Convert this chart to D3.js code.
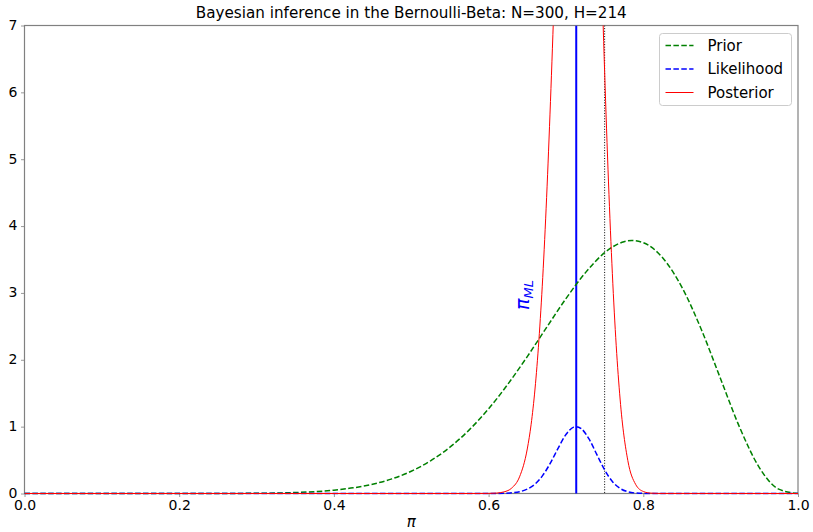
<!DOCTYPE html>
<html>
<head>
<meta charset="utf-8">
<script src="https://cdn.jsdelivr.net/npm/d3@7"></script>
<style>
  html, body { margin: 0; padding: 0; background: #fff; }
  svg { display: block; font-family: "DejaVu Sans", sans-serif; }
</style>
</head>
<body>
<svg id="chart" width="813" height="532"></svg>
<script>
// ---- data ----
const title = "Bayesian inference in the Bernoulli-Beta: N=300, H=214";
const xTicks = [0.0, 0.2, 0.4, 0.6, 0.8, 1.0];
const yTicks = [0, 1, 2, 3, 4, 5, 6, 7];

const priorX = [0.0, 0.15, 0.2, 0.25, 0.3, 0.325, 0.35, 0.375, 0.4, 0.425, 0.45, 0.475, 0.5, 0.525, 0.55, 0.575, 0.6, 0.625, 0.65, 0.675, 0.7, 0.725, 0.75, 0.775, 0.785, 0.8, 0.825, 0.85, 0.875, 0.9, 0.925, 0.95, 0.975, 1.0];
const priorY = [0.0, 0.0, 0.0001, 0.0006, 0.0033, 0.0072, 0.0145, 0.0275, 0.0495, 0.0848, 0.139, 0.219, 0.333, 0.489, 0.693, 0.952, 1.267, 1.637, 2.048, 2.484, 2.915, 3.300, 3.602, 3.766, 3.784, 3.752, 3.525, 3.083, 2.454, 1.713, 0.977, 0.388, 0.065, 0.0];

const likeX = [0.0, 0.58, 0.6, 0.62, 0.63, 0.64, 0.65, 0.66, 0.67, 0.68, 0.69, 0.7, 0.71, 0.7133, 0.72, 0.73, 0.74, 0.75, 0.76, 0.77, 0.78, 0.79, 0.8, 0.82, 1.0];
const likeY = [0.0, 0.0, 0.0002, 0.0031, 0.0097, 0.0266, 0.0652, 0.141, 0.271, 0.458, 0.680, 0.882, 0.993, 1.0, 0.968, 0.812, 0.581, 0.353, 0.179, 0.0756, 0.0262, 0.0073, 0.0016, 0.0, 0.0];

const postX = [0.0, 0.58, 0.6, 0.61, 0.62, 0.63, 0.64, 0.65, 0.655, 0.66, 0.665, 0.67, 0.675, 0.68, 0.685, 0.69, 0.7, 0.71, 0.7166, 0.72, 0.73, 0.74, 0.745, 0.75, 0.755, 0.76, 0.765, 0.77, 0.78, 0.79, 0.8, 0.81, 0.82, 1.0];
const postY = [0.0, 0.0001, 0.0015, 0.0063, 0.0242, 0.0825, 0.249, 0.666, 1.036, 1.563, 2.29, 3.232, 4.43, 5.865, 7.50, 9.29, 12.78, 15.20, 15.69, 15.57, 13.63, 10.12, 8.18, 6.31, 4.66, 3.288, 2.21, 1.413, 0.492, 0.138, 0.030, 0.005, 0.0007, 0.0];

const piML = 0.7133;      // maximum-likelihood estimate (blue vertical line)
const priorMean = 0.75;   // black dotted vertical line

const legendLabels = ["Prior", "Likelihood", "Posterior"];

// ---- layout ----
const svg = d3.select("#chart");
const L = 24.5, R = 798, T = 25.5, B = 493.5;
const x = d3.scaleLinear().domain([0, 1]).range([L, R]);
const y = d3.scaleLinear().domain([0, 7]).range([B, T]);

svg.append("defs").append("clipPath").attr("id", "plotclip")
  .append("rect").attr("x", L).attr("y", T).attr("width", R - L).attr("height", B - T + 1.2);

const line = d3.line().x(d => x(d[0])).y(d => y(d[1])).curve(d3.curveMonotoneX);

// axes
const axisColor = "#808080";
const xAxis = svg.append("g").attr("transform", `translate(0,${B})`)
  .call(d3.axisBottom(x).tickValues(xTicks).tickFormat(d3.format(".1f")).tickSizeOuter(0).tickSizeInner(3.5).tickPadding(3.5));
const yAxis = svg.append("g").attr("transform", `translate(${L},0)`)
  .call(d3.axisLeft(y).tickValues(yTicks).tickFormat(d3.format("d")).tickSizeOuter(0).tickSizeInner(3.5).tickPadding(3.5));
[xAxis, yAxis].forEach(a => {
  a.select(".domain").remove();
  a.selectAll(".tick line").attr("stroke", axisColor).attr("stroke-width", 0.8);
  a.selectAll(".tick text").attr("fill", "#000").style("font-size", "14px").style("font-family", "DejaVu Sans");
});
yAxis.selectAll(".tick text").attr("dy", "0.28em");

// spines
svg.append("rect").attr("x", L).attr("y", T).attr("width", R - L).attr("height", B - T)
  .attr("fill", "none").attr("stroke", axisColor).attr("stroke-width", 1.2);

const plot = svg.append("g").attr("clip-path", "url(#plotclip)");

// vertical lines
plot.append("line").attr("x1", x(piML)).attr("x2", x(piML)).attr("y1", T).attr("y2", B)
  .attr("stroke", "#0000ff").attr("stroke-width", 2);
plot.append("line").attr("x1", x(priorMean)).attr("x2", x(priorMean)).attr("y1", T).attr("y2", B)
  .attr("stroke", "#000").attr("stroke-width", 1).attr("stroke-dasharray", "1,1.65");

// curves
plot.append("path").datum(priorX.map((v, i) => [v, priorY[i]])).attr("d", line)
  .attr("fill", "none").attr("stroke", "#008000").attr("stroke-width", 1.5).attr("stroke-dasharray", "5.5,2.4");
plot.append("path").datum(likeX.map((v, i) => [v, likeY[i]])).attr("d", line)
  .attr("fill", "none").attr("stroke", "#0000ff").attr("stroke-width", 1.5).attr("stroke-dasharray", "5.5,2.4");
plot.append("path").datum(postX.map((v, i) => [v, postY[i]])).attr("d", line)
  .attr("fill", "none").attr("stroke", "#ff0000").attr("stroke-width", 1);

// pi_ML label (rotated)
const lab = svg.append("text")
  .attr("transform", `translate(${x(0.645) + 6},${y(2.97)}) rotate(-90)`)
  .attr("text-anchor", "middle").attr("fill", "#0000ff")
  .style("font-size", "19px").style("font-style", "italic").style("font-family", "DejaVu Sans");
lab.append("tspan").text("π");
lab.append("tspan").attr("dy", 4).style("font-size", "13px").text("ML");

// title
svg.append("text").attr("x", (L + R) / 2).attr("y", 18).attr("text-anchor", "middle")
  .style("font-size", "15.2px").text(title);

// x label
svg.append("text").attr("x", (L + R) / 2).attr("y", 527).attr("text-anchor", "middle")
  .style("font-size", "15px").style("font-style", "italic").text("π");

// legend
const lg = svg.append("g").attr("transform", "translate(659.5,33.5)");
lg.append("rect").attr("width", 132).attr("height", 72).attr("rx", 3)
  .attr("fill", "#fff").attr("fill-opacity", 0.8).attr("stroke", "#cccccc").attr("stroke-width", 1);
const legStyles = [
  { c: "#008000", dash: "5.5,2.4" },
  { c: "#0000ff", dash: "5.5,2.4" },
  { c: "#ff0000", dash: null }
];
legendLabels.forEach((t, i) => {
  const yy = 12 + i * 23.5;
  const ln = lg.append("line").attr("x1", 6).attr("x2", 34).attr("y1", yy).attr("y2", yy)
    .attr("stroke", legStyles[i].c).attr("stroke-width", i === 2 ? 1 : 1.5);
  if (legStyles[i].dash) ln.attr("stroke-dasharray", legStyles[i].dash);
  lg.append("text").attr("x", 48).attr("y", yy + 5).style("font-size", "15px").text(t);
});
</script>
</body>
</html>
